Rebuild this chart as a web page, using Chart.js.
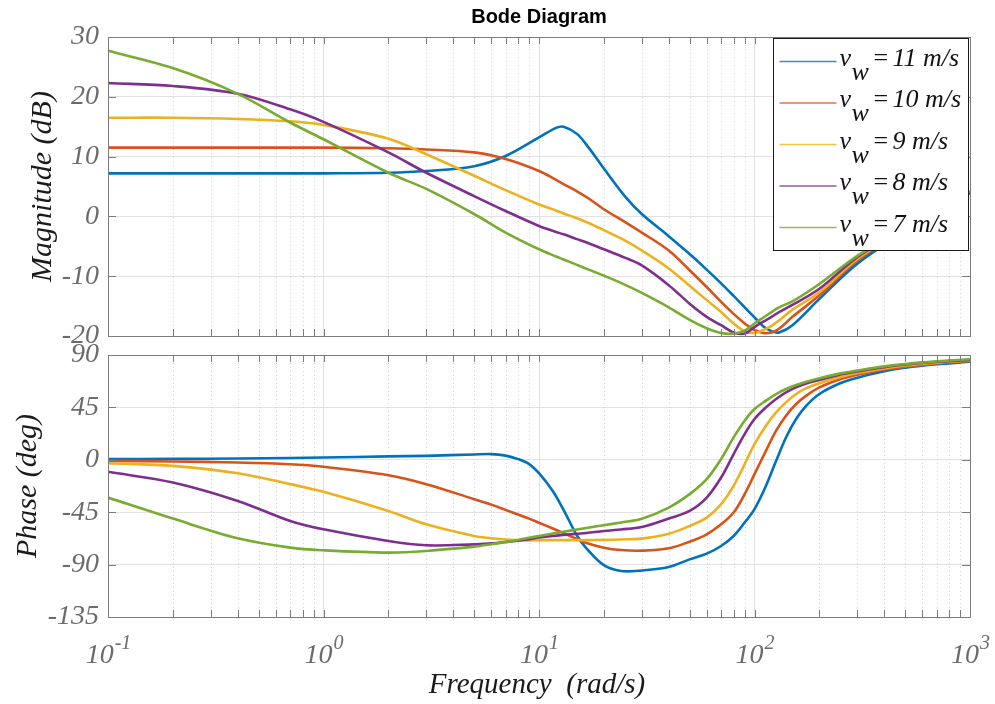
<!DOCTYPE html>
<html>
<head>
<meta charset="utf-8">
<title>Bode Diagram</title>
<script src="https://cdn.jsdelivr.net/npm/chart.js@4.4.1/dist/chart.umd.min.js"></script>
<style>
  html, body { margin: 0; padding: 0; background: #fff; }
  #wrap { position: relative; width: 995px; height: 704px; }
  #magBox { position: absolute; left: 0; top: 0; width: 995px; height: 346px; overflow: hidden; }
  #wrap canvas { position: absolute; left: 0; top: 0; }
</style>
</head>
<body>
<div id="wrap">
  <div id="magBox"><canvas id="magChart" width="995" height="704"></canvas></div>
  <canvas id="phaseChart" width="995" height="704"></canvas>
</div>
<script>
// wind speeds (m/s) and line colours, same order as the series below
const windSpeeds = ['11', '10', '9', '8', '7'];
const lineColors = ['#0072BD', '#D95319', '#EDB120', '#7E2F8E', '#77AC30'];

// magnitude (dB)
const magFreq = [0.1, 0.2, 0.4, 0.7, 1, 2, 3, 5, 7, 10, 12, 13, 15, 17, 20, 25, 30, 40, 50, 60,
                 70, 80, 90, 100, 110, 120, 130, 150, 200, 300, 500, 700, 1000];
const mag11 = [7.2, 7.2, 7.2, 7.2, 7.2, 7.3, 7.6, 8.4, 10.1, 13.2, 14.8, 15.0, 13.8, 11.5, 8.0, 3.4, 0.4, -3.3, -6.3, -8.9,
               -11.2, -13.3, -15.2, -16.9, -18.4, -19.2, -19.4, -18.2, -13.8, -7.9, -2.5, 0.8, 3.9];
const mag10 = [11.5, 11.5, 11.5, 11.5, 11.5, 11.4, 11.2, 10.7, 9.6, 7.6, 6.1, 5.4, 4.2, 3.0, 1.2, -0.9, -2.7, -5.7, -9.0, -11.8,
               -14.3, -16.3, -17.9, -19.0, -19.5, -19.4, -18.8, -16.8, -13.2, -7.4, -2.3, 0.9, 4.0];
const mag9 = [16.5, 16.5, 16.3, 15.9, 15.3, 13.0, 10.4, 6.8, 4.4, 2.0, 1.0, 0.5, -0.3, -1.1, -2.3, -4.0, -5.7, -8.7, -11.6, -14.0,
              -16.0, -17.9, -19.2, -19.5, -19.0, -18.3, -17.4, -15.6, -12.7, -7.1, -2.1, 1.0, 4.0];
const mag8 = [22.3, 21.8, 20.5, 17.9, 15.8, 10.7, 7.3, 3.4, 0.9, -1.6, -2.6, -3.0, -3.8, -4.5, -5.5, -6.9, -8.2, -11.5, -14.6, -16.8,
              -18.2, -19.4, -19.6, -18.5, -17.6, -16.8, -16.0, -14.8, -12.1, -6.8, -2.0, 1.1, 4.0];
const mag7 = [27.7, 24.8, 20.5, 15.7, 12.9, 7.3, 4.6, 0.4, -2.7, -5.5, -6.7, -7.2, -8.1, -8.9, -9.9, -11.4, -12.8, -15.2, -17.3, -18.7,
              -19.5, -19.6, -19.1, -17.9, -16.9, -16.0, -15.2, -14.2, -11.3, -6.6, -1.8, 1.3, 4.2];

// phase (deg)
const phaseFreq = [0.1, 0.2, 0.4, 0.7, 1, 2, 3, 5, 6, 7, 8, 9, 10, 11.6, 13, 15, 16.6, 20, 24, 30,
                   40, 50, 60, 70, 80, 90, 100, 113, 126, 140, 156, 174, 200, 248, 300, 400, 500, 700, 1000];
const phase11 = [0.6, 0.8, 1.1, 1.5, 2.0, 2.9, 3.4, 4.6, 4.9, 3.6, 0.6, -3.7, -11.5, -27.0, -43.0, -65.0, -76.0, -90.5, -95.5, -95.0,
                 -92.0, -85.5, -80.6, -74.0, -65.4, -53.9, -42.4, -22.4, -0.9, 19.2, 35.0, 46.5, 56.5, 65.5, 70.5, 76.0, 79.0, 82.0, 84.2];
const phase10 = [-0.9, -1.4, -2.3, -3.8, -6.0, -13.2, -20.9, -33.8, -38.5, -43.0, -47.0, -50.5, -54.0, -59.0, -63.0, -68.0, -71.5, -75.5, -77.5, -78.0,
                 -76.0, -70.3, -64.0, -55.4, -45.3, -29.5, -12.3, 7.7, 25.0, 37.9, 47.9, 55.1, 62.2, 69.0, 73.0, 77.5, 80.0, 82.8, 84.8];
const phase9 = [-2.9, -5.2, -11.5, -20.9, -27.5, -43.9, -55.4, -65.4, -67.3, -68.5, -69.0, -69.2, -69.0, -69.0, -69.0, -69.0, -69.0, -68.8, -68.4, -67.7,
                -63.5, -56.8, -49.6, -38.1, -22.4, -3.7, 13.5, 29.3, 40.7, 49.3, 56.5, 61.5, 65.7, 71.0, 74.5, 78.5, 81.0, 83.4, 85.3];
const phase8 = [-10.3, -19.5, -35.3, -52.5, -59.7, -69.7, -73.4, -72.6, -71.7, -70.6, -69.5, -68.2, -66.8, -65.5, -64.5, -63.5, -62.8, -61.1, -59.8, -57.8,
                -50.5, -43.9, -32.4, -15.2, 4.9, 22.1, 35.0, 45.0, 52.2, 57.9, 62.2, 65.5, 68.5, 73.0, 75.8, 79.5, 81.8, 84.0, 85.8];
const phase7 = [-32.4, -50.5, -67.4, -75.4, -77.7, -79.7, -78.3, -74.6, -72.6, -70.6, -68.8, -67.0, -65.4, -63.3, -61.8, -59.8, -58.5, -56.2, -53.8, -50.6,
                -41.0, -29.5, -16.6, 0.6, 19.2, 33.6, 43.6, 50.8, 56.5, 60.8, 64.2, 67.0, 70.0, 74.0, 76.6, 80.2, 82.3, 84.5, 86.3];

// axis ticks
const magTicks = [-20, -10, 0, 10, 20, 30];
const phaseTicks = [-135, -90, -45, 0, 45, 90];
const freqTicks = [0.1, 1, 10, 100, 1000];
const freqExponents = ['-1', '0', '1', '2', '3'];
const minorSteps = [2, 3, 4, 5, 6, 7, 8, 9];

const magSeries = [mag11, mag10, mag9, mag8, mag7];
const phaseSeries = [phase11, phase10, phase9, phase8, phase7];

const freqMinor = [];
freqTicks.slice(0, -1).forEach(d => minorSteps.forEach(m => freqMinor.push(d * m)));

const serif = "'Liberation Serif', 'Times New Roman', serif";
const sans = "'Liberation Sans', Arial, sans-serif";
const tickGrey = '#6b6b6b';
const axisGrey = '#7c7c7c';
const gridGrey = '#e2e2e2';

function makeDatasets(freq, series) {
  return series.map((vals, i) => ({
    label: 'v_w = ' + windSpeeds[i] + ' m/s',
    data: freq.map((f, k) => ({ x: f, y: vals[k] })),
    borderColor: lineColors[i],
    borderWidth: 2.6,
    pointRadius: 0,
    tension: 0.35,
    order: series.length - i
  }));
}

function drawMinorGrid(chart) {
  const { ctx, chartArea: a, scales: { x } } = chart;
  ctx.save();
  ctx.strokeStyle = '#d2d2d2';
  ctx.lineWidth = 1;
  ctx.setLineDash([1, 3]);
  ctx.beginPath();
  freqMinor.forEach(f => {
    const px = Math.round(x.getPixelForValue(f)) + 0.5;
    ctx.moveTo(px, a.top);
    ctx.lineTo(px, a.bottom);
  });
  ctx.stroke();
  ctx.restore();
}

// box round the axes plus MATLAB style inward ticks
function drawFrame(chart, yTicks) {
  const { ctx, chartArea: a, scales: { x, y } } = chart;
  ctx.save();
  ctx.strokeStyle = axisGrey;
  ctx.lineWidth = 1;
  ctx.beginPath();
  freqTicks.concat(freqMinor).forEach(f => {
    const px = Math.round(x.getPixelForValue(f)) + 0.5;
    ctx.moveTo(px, a.top);
    ctx.lineTo(px, a.top + 7);
    ctx.moveTo(px, a.bottom);
    ctx.lineTo(px, a.bottom - 7);
  });
  yTicks.forEach(v => {
    const py = Math.round(y.getPixelForValue(v)) + 0.5;
    ctx.moveTo(a.left, py);
    ctx.lineTo(a.left + 8, py);
    ctx.moveTo(a.right, py);
    ctx.lineTo(a.right - 8, py);
  });
  ctx.stroke();
  ctx.strokeRect(Math.round(a.left) + 0.5, Math.round(a.top) + 0.5,
                 Math.round(a.right - a.left), Math.round(a.bottom - a.top));
  ctx.restore();
}

function drawYTitle(chart, text, baseX) {
  const { ctx, chartArea: a } = chart;
  ctx.save();
  ctx.translate(baseX, (a.top + a.bottom) / 2);
  ctx.rotate(-Math.PI / 2);
  ctx.font = 'italic 30px ' + serif;
  ctx.fillStyle = '#1a1a1a';
  ctx.textAlign = 'center';
  ctx.textBaseline = 'alphabetic';
  ctx.fillText(text, 0, 0);
  ctx.restore();
}

function drawLegend(chart) {
  const { ctx, chartArea: a } = chart;
  const left = Math.round(a.right) - 196.5;
  const top = Math.round(a.top) + 1.5;
  ctx.save();
  ctx.fillStyle = '#fff';
  ctx.fillRect(left, top, 195, 212);
  ctx.strokeStyle = '#1a1a1a';
  ctx.lineWidth = 1;
  ctx.strokeRect(left, top, 195, 212);
  windSpeeds.forEach((ws, i) => {
    const ly = top + 23 + i * 41.5;
    ctx.strokeStyle = lineColors[i];
    ctx.globalAlpha = 0.8;
    ctx.lineWidth = 1.5;
    ctx.beginPath();
    ctx.moveTo(left + 6, ly);
    ctx.lineTo(left + 63, ly);
    ctx.stroke();
    ctx.globalAlpha = 1;
    ctx.fillStyle = '#111';
    ctx.font = 'italic 26px ' + serif;
    ctx.textAlign = 'left';
    ctx.textBaseline = 'alphabetic';
    ctx.fillText('v', left + 66, ly + 4);
    ctx.fillText('w', left + 78, ly + 18);
    ctx.font = '26px ' + serif;
    ctx.fillText('=', left + 100, ly + 4);
    ctx.font = 'italic 26px ' + serif;
    ctx.fillText(ws + ' m/s', left + 119, ly + 4);
  });
  ctx.restore();
}

function drawFreqLabels(chart) {
  const { ctx, scales: { x }, chartArea: a } = chart;
  ctx.save();
  ctx.fillStyle = tickGrey;
  ctx.textBaseline = 'alphabetic';
  ctx.textAlign = 'left';
  freqTicks.forEach((f, i) => {
    ctx.font = 'italic 28px ' + serif;
    const wBase = ctx.measureText('10').width;
    ctx.font = 'italic 20px ' + serif;
    const wExp = ctx.measureText(freqExponents[i]).width;
    const x0 = x.getPixelForValue(f) - (wBase + wExp) / 2;
    ctx.font = 'italic 28px ' + serif;
    ctx.fillText('10', x0, a.bottom + 46);
    ctx.font = 'italic 20px ' + serif;
    ctx.fillText(freqExponents[i], x0 + wBase + 1, a.bottom + 32);
  });
  ctx.font = 'italic 29px ' + serif;
  ctx.fillStyle = '#1a1a1a';
  ctx.textAlign = 'center';
  ctx.fillText('Frequency  (rad/s)', (a.left + a.right) / 2 - 2, a.bottom + 76);
  ctx.restore();
}

function scaleOptions(yMin, yMax, yTicks) {
  return {
    x: {
      type: 'logarithmic',
      min: 0.1,
      max: 1000,
      afterBuildTicks: s => { s.ticks = freqTicks.map(v => ({ value: v })); },
      afterFit: s => { s.height = 0; },
      ticks: { display: false },
      grid: { color: gridGrey, drawTicks: false },
      border: { display: false }
    },
    y: {
      min: yMin,
      max: yMax,
      afterBuildTicks: s => { s.ticks = yTicks.map(v => ({ value: v })); },
      afterFit: s => { s.width = 108; },
      ticks: {
        padding: 9,
        color: tickGrey,
        font: { family: serif, size: 28, style: 'italic' },
        callback: v => String(v)
      },
      grid: { color: gridGrey, drawTicks: false },
      border: { display: false }
    }
  };
}

const commonOptions = {
  responsive: false,
  animation: false,
  events: [],
  plugins: { legend: { display: false }, tooltip: { enabled: false } }
};

new Chart(document.getElementById('magChart'), {
  type: 'line',
  data: { datasets: makeDatasets(magFreq, magSeries) },
  options: Object.assign({}, commonOptions, {
    layout: { padding: { top: 37, right: 25, bottom: 368, left: 0 } },
    scales: scaleOptions(-20, 30, magTicks)
  }),
  plugins: [{
    id: 'magDecor',
    beforeDatasetsDraw(chart) { drawMinorGrid(chart); },
    afterDatasetsDraw(chart) {
      drawFrame(chart, magTicks);
      drawLegend(chart);
    },
    afterDraw(chart) {
      const { ctx, chartArea: a } = chart;
      ctx.save();
      ctx.font = 'bold 20px ' + sans;
      ctx.fillStyle = '#000';
      ctx.textAlign = 'center';
      ctx.fillText('Bode Diagram', (a.left + a.right) / 2, 23);
      ctx.restore();
      drawYTitle(chart, 'Magnitude (dB)', 51);
    }
  }]
});

new Chart(document.getElementById('phaseChart'), {
  type: 'line',
  data: { datasets: makeDatasets(phaseFreq, phaseSeries) },
  options: Object.assign({}, commonOptions, {
    layout: { padding: { top: 355, right: 25, bottom: 87, left: 0 } },
    scales: scaleOptions(-135, 90, phaseTicks)
  }),
  plugins: [{
    id: 'phaseDecor',
    beforeDatasetsDraw(chart) { drawMinorGrid(chart); },
    afterDatasetsDraw(chart) { drawFrame(chart, phaseTicks); },
    afterDraw(chart) {
      drawFreqLabels(chart);
      drawYTitle(chart, 'Phase (deg)', 36);
    }
  }]
});
</script>
</body>
</html>
